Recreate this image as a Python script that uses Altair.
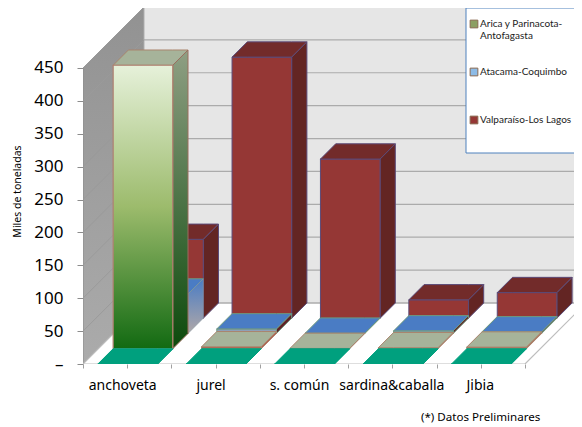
import altair as alt
import pandas as pd

categories = ["anchoveta", "jurel", "s. común", "sardina&caballa", "Jibia"]
front_row = [0, 0, 0, 0, 0]
arica = [431, 3, 0.5, 1.5, 2.5]
atacama = [60, 7, 0.5, 4, 2.5]
valparaiso = [120, 397, 242, 28, 39]
series_names = ["Arica y Parinacota-Antofagasta", "Atacama-Coquimbo", "Valparaíso-Los Lagos"]
legend_colors = ["#8C9F62", "#8DBBE6", "#953735"]
y_ticks = [0, 50, 100, 150, 200, 250, 300, 350, 400, 450]

PLOT_W = 491
XMAX, YMAX = PLOT_W / 88.4, 356 / 0.6578
DX, DY = 15.25 / 88.4, 15.25 / 0.6578
BAR, LEFT = 59.6 / 88.4, 14.9 / 88.4


def pr(x, v, d):
    return (x + d * DX, v + d * DY)


def poly(rows, pid, pts, fill, stroke):
    xs = sorted({round(p[0], 5) for p in pts})
    n = len(pts)
    for x in xs:
        ys = []
        for i in range(n):
            (a, b), (c, e) = pts[i], pts[(i + 1) % n]
            lo, hi = min(a, c), max(a, c)
            if lo - 1e-4 <= x <= hi + 1e-4:
                if abs(c - a) < 1e-4:
                    ys += [b, e]
                else:
                    ys.append(b + (e - b) * (x - a) / (c - a))
        rows.append(dict(poly=pid, x=x, y=min(ys), y2=max(ys), fill=fill, stroke=stroke))


def box(cat, row, val):
    x0 = cat + LEFT
    x1 = x0 + BAR
    d0, d1 = row, row + 1
    return dict(
        front=[pr(x0, 0, d0), pr(x1, 0, d0), pr(x1, val, d0), pr(x0, val, d0)],
        side=[pr(x1, 0, d0), pr(x1, 0, d1), pr(x1, val, d1), pr(x1, val, d0)],
        top=[pr(x0, val, d0), pr(x1, val, d0), pr(x1, val, d1), pr(x0, val, d1)],
    )


X_SCALE = alt.Scale(domain=[0, XMAX], nice=False, zero=False)
Y_SCALE = alt.Scale(domain=[0, YMAX], nice=False, zero=False)

tick_vals = [i / 2 for i in range(11)]
lab = ("datum.value==0.5?'anchoveta':datum.value==1.5?'jurel':datum.value==2.5?'s. común':"
       "datum.value==3.5?'sardina&caballa':datum.value==4.5?'Jibia':''")
X_AXIS = alt.Axis(
    values=tick_vals, labelExpr=lab, labelFont="Noto Sans", labelFontSize=14, labelColor="#000",
    domain=False, grid=False, tickColor="#A0A0A0", tickSize=4, labelPadding=10, labelOverlap=False,
    labelAngle=0, title=None, labelOffset={"condition": {"test": "datum.value<3", "value": -5}, "value": -1})
Y_AXIS = alt.Axis(
    values=y_ticks, labelExpr="datum.value==0?'–\u00a0\u00a0':datum.label", labelFont="Noto Sans", labelFontSize=17,
    labelColor="#000", domain=False, grid=False, tickColor="#8C8C8C", tickSize=6, labelPadding=14,
    title="Miles de toneladas", titleFont="Noto Sans", titleFontSize=10.5, titleFontWeight="normal",
    titleColor="#000", titleX=-61, titleY=183)


def X(f):
    return alt.X(f, scale=X_SCALE, axis=X_AXIS)


def Y(f, **k):
    return alt.Y(f, scale=Y_SCALE, axis=Y_AXIS, **k)


def area_layer(rows, **mark):
    base = alt.Chart(pd.DataFrame(rows)).mark_area(orient="vertical", clip=True, **mark)
    enc = dict(x=X("x:Q"), y=Y("y:Q", stack=None), y2="y2:Q", detail="poly:N")
    if "fill" not in mark:
        enc["fill"] = alt.Fill("fill:N", scale=None)
        enc["stroke"] = alt.Stroke("stroke:N", scale=None)
    return base.encode(**enc)


def grad(c0, c1, c2=None):
    stops = [alt.GradientStop(offset=0, color=c0)]
    if c2:
        stops.append(alt.GradientStop(offset=0.5, color=c1))
        stops.append(alt.GradientStop(offset=1, color=c2))
    else:
        stops.append(alt.GradientStop(offset=1, color=c1))
    return alt.LinearGradient(gradient="linear", stops=stops, x1=0, x2=0, y1=0, y2=1)


layers = []

# walls
r = []
poly(r, "left", [pr(0, 0, 0), pr(0, 0, 4), pr(0, 450, 4), pr(0, 450, 0)], "", "")
layers.append(area_layer(r, fill=grad("#929292", "#ABABAB"), stroke="#8C8C8C", strokeWidth=1))
bx = pr(0, 0, 4)[0]
by = pr(0, 0, 4)[1]
r = []
poly(r, "back", [(bx, by), (XMAX + 1, by), (XMAX + 1, 450 + by), (bx, 450 + by)], "#E6E6E6", "#B0B0B0")
layers.append(area_layer(r))

# grid lines
g = pd.DataFrame([dict(x0=pr(0, v, 0)[0], y0=pr(0, v, 0)[1], x1=pr(0, v, 4)[0], y1=pr(0, v, 4)[1],
                       xe=XMAX) for v in y_ticks])
layers.append(alt.Chart(g).mark_rule(color="#ABABAB", strokeWidth=1.2, clip=True).encode(x=X("x1:Q"), x2="xe:Q", y=Y("y1:Q")))
layers.append(alt.Chart(g[g.y0 > 0]).mark_rule(color="#9A9A9A", strokeWidth=1, clip=True).encode(x=X("x1:Q"), x2="x0:Q", y=Y("y1:Q"), y2="y0:Q"))

# floor edges
f = pd.DataFrame([dict(x=pr(5, 0, 0)[0], y=0, x2=pr(5, 0, 0)[0] + 4 * DX, y2=4 * DY),
                  dict(x=0, y=0, x2=pr(0, 0, 4)[0], y2=4 * DY),
                  dict(x=0, y=0, x2=5, y2=0)])
layers.append(alt.Chart(f).mark_rule(color="#BDBDBD", strokeWidth=1.2, clip=True).encode(
    x=X("x:Q"), x2="x2:Q", y=Y("y:Q"), y2="y2:Q"))


def row_polys(row, vals, front, side, top, stroke, skip=()):
    rows = []
    for c, v in enumerate(vals):
        b = box(c, row, v)
        if (c, "side") not in skip:
            poly(rows, f"{row}-{c}-s", b["side"], side, stroke)
        if (c, "front") not in skip:
            poly(rows, f"{row}-{c}-f", b["front"], front, stroke)
        poly(rows, f"{row}-{c}-t", b["top"], top, stroke)
    return rows


layers.append(area_layer(row_polys(3, valparaiso, "#953735", "#632523", "#722B2A", "#5B4A78")))
layers.append(area_layer(row_polys(2, atacama, "#8EA0B8", "#5F2124", "#4A7CC4", "#6E9A80", skip=[(0, "side")])))
r = []
poly(r, "bs", box(0, 2, atacama[0])["side"], "", "")
layers.append(area_layer(r, fill=grad("#4A7CC4", "#B0A8A8"), stroke="#8A9AA0", strokeWidth=0.6))
layers.append(area_layer(row_polys(1, arica, "#B25A48", "#B25A48", "#A6B39A", "#A9856E", skip=[(0, "side"), (0, "front")])))
r = []
poly(r, "gs", box(0, 1, arica[0])["side"], "", "")
layers.append(area_layer(r, fill=grad("#8F9F83", "#0C4A0C"), stroke="#9A6E5E", strokeWidth=1))
r = []
poly(r, "gf", box(0, 1, arica[0])["front"], "", "")
layers.append(area_layer(r, fill=grad("#E6F1DA", "#9CBB6C", "#126A12"), stroke="#B08070", strokeWidth=1.2))
layers.append(area_layer(row_polys(0, front_row, "#00A07E", "#00A07E", "#00A07E", "#00A07E")))

# legend box
box_mark = alt.Chart(pd.DataFrame({"k": [0]})).mark_rect(fill="white", stroke="#4F81BD", strokeWidth=1, opacity=1).encode(
    x=alt.value(383), x2=alt.value(PLOT_W + 10), y=alt.value(0), y2=alt.value(145))
layers.append(box_mark)

# legend carrier
leg = alt.Chart(pd.DataFrame({"series": series_names, "x": [0.0] * 3, "y": [0.0] * 3})).mark_point(
    filled=True, size=0, opacity=0).encode(
    x=X("x:Q"), y=Y("y:Q"),
    color=alt.Color("series:N", scale=alt.Scale(domain=series_names, range=legend_colors), legend=alt.Legend(
        title=None, orient="none", legendX=386, legendY=11, padding=0, gridAlign="all",
        symbolType="square", symbolSize=60, symbolOpacity=1, symbolStrokeColor="#8A6A50", symbolStrokeWidth=1,
        labelFont="Lato", labelFontSize=10, labelColor="#222", rowPadding=25, labelLimit=200,
        labelOffset=1,
        labelExpr="datum.label=='Arica y Parinacota-Antofagasta'?['Arica y Parinacota-','Antofagasta']:datum.label")),
)
layers.append(leg)

note = alt.Chart(pd.DataFrame({"t": ["(*) Datos Preliminares"]})).mark_text(
    font="Noto Sans", fontSize=11.6, color="#000", align="left", baseline="middle").encode(
    x=alt.value(338), y=alt.value(410), text="t:N")
layers.append(note)

chart = alt.layer(*layers).properties(
    width=PLOT_W, height=356,
    padding={"left": 75, "top": 0, "right": 0, "bottom": 59},
    autosize=alt.AutoSizeParams(type="none"),
).configure_view(stroke=None)

chart.save("out.html", embed_options={"renderer": "svg", "actions": False})
